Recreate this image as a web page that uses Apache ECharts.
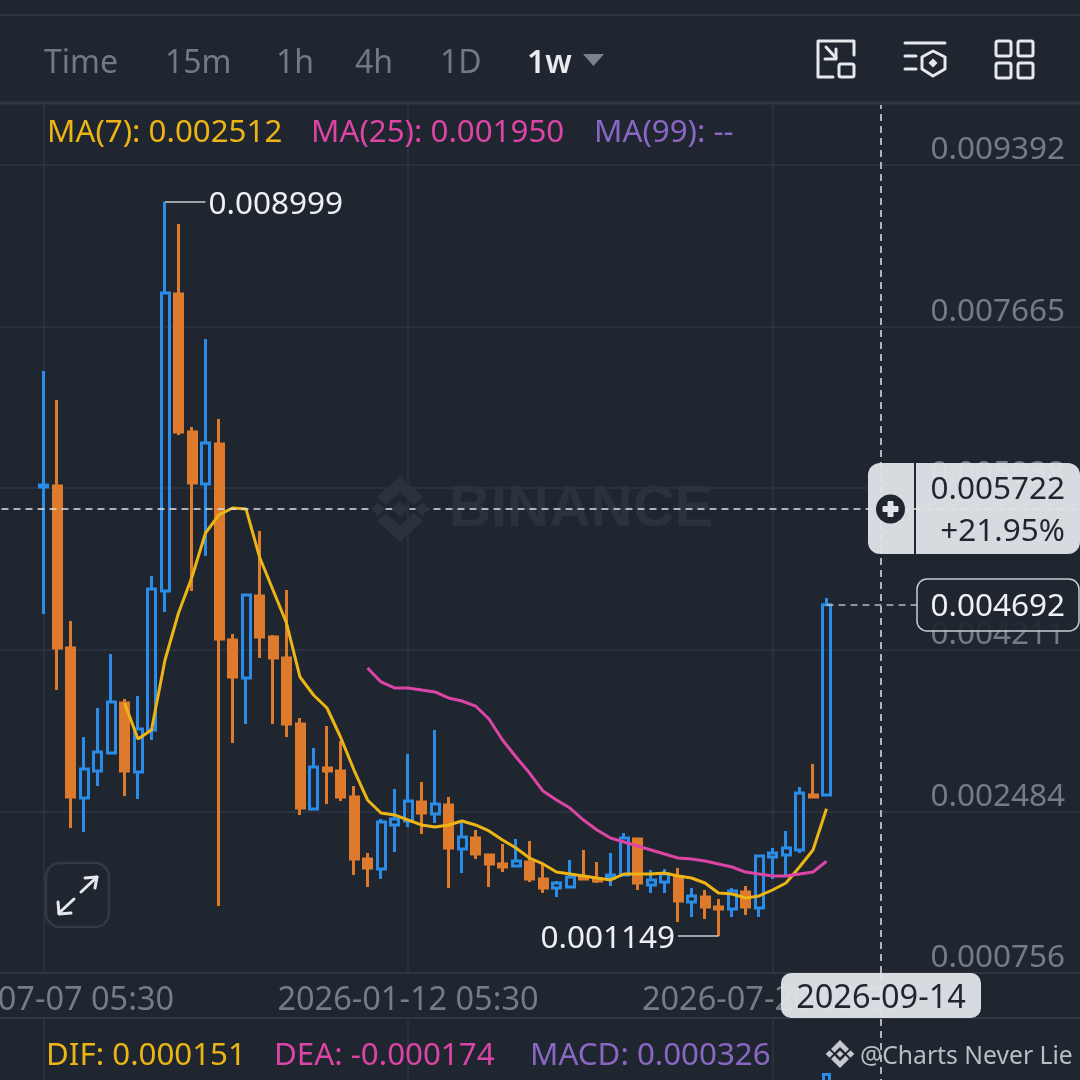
<!DOCTYPE html>
<html><head><meta charset="utf-8">
<style>html,body{margin:0;padding:0;background:#1f2630}#c{width:1080px;height:1080px}</style>
<script src="https://cdn.jsdelivr.net/npm/echarts@6/dist/echarts.min.js"></script>
</head><body><div id="c"></div>
<script>
// values are in millionths of the price unit
const opens  = [5950,5961,4229,2626,2915,3107,3641,2904,3353,4838,8012,6538,5982,6409,4315,3909,4785,4347,4122,3417,2509,2947,2915,2637,1974,1867,2338,2380,2583,2455,2551,2081,2199,2017,1921,1900,1942,1761,1664,1675,1782,1761,1771,1803,2188,1696,1729,1782,1515,1568,1461,1440,1622,1451,1996,2017,2071,2658,2658];
const closes = [5971,4229,2637,2936,3118,3652,2915,3364,4860,8023,6538,5993,6420,4325,3919,4796,4347,4122,3417,2519,2958,2915,2637,1974,1878,2370,2402,2594,2466,2562,2092,2209,2028,1921,1889,1953,1761,1664,1718,1782,1761,1739,1803,2199,1718,1750,1814,1525,1579,1461,1440,1632,1461,2006,2038,2092,2680,2637,4692];
const lows   = [4593,3780,2306,2263,2754,3107,2648,2616,3246,4614,6506,4838,5212,1472,3214,3417,4122,3417,3278,2445,2509,2562,2594,1803,1675,1761,2049,2316,2242,2359,1664,1825,1974,1675,1835,1900,1729,1611,1568,1675,1761,1718,1686,1803,1643,1611,1611,1301,1354,1333,1149,1354,1376,1354,1761,1782,2038,2626,2658];
const highs  = [7190,6880,4518,3278,3588,4165,3684,3716,4999,8999,8761,6591,7532,6677,4379,4796,5480,4368,4849,3481,3161,3396,3235,2754,2038,2402,2722,3096,2797,3353,2637,2359,2284,2017,2135,2188,2167,1910,1739,1964,2071,1942,2038,2252,2199,1857,1867,1878,1664,1643,1547,1664,1686,2017,2092,2274,2744,2990,4764];
const ma7Values  = [3641,3257,3353,4101,4603,4988,5458,5651,5725,5715,5202,4849,4496,3919,3727,3588,3278,2925,2605,2466,2445,2391,2338,2316,2338,2380,2338,2274,2177,2092,1985,1921,1835,1814,1793,1771,1750,1814,1814,1814,1825,1793,1771,1718,1611,1600,1558,1579,1643,1718,1889,2071,2512];
const ma25Values = [4016,3866,3802,3802,3780,3759,3695,3663,3609,3470,3246,3064,2893,2701,2605,2519,2391,2284,2199,2156,2113,2071,2028,1985,1974,1953,1921,1889,1835,1814,1793,1793,1814,1835,1950];
const macdValue = 326;
const yTicks = [0.000756,0.002484,0.004211,0.005938,0.007665,0.009392];
const xTickDates = ['2025-07-07','2026-01-12','2026-07-20'];
const hoverDate = '2026-09-14', hoverPrice = 0.005722, hoverPct = '+21.95%';
const lastPrice = 0.004692, maxPrice = 0.008999, minPrice = 0.001149;
const tabs = ['Time','15m','1h','4h','1D'], activeTab = '1w';
const LEAD = 4, SLOTS = 82;

const scale = a => a.map(v => v == null ? null : +(v/1e6).toFixed(6));
const categories = [];
for (let i = 0; i < SLOTS; i++) {
  const d = new Date(Date.UTC(2025,5,9) + i*7*864e5);
  categories.push(d.toISOString().slice(0,10));
}
const pad = (a, start) => new Array(LEAD+start).fill(null).concat(scale(a));
const candleData = new Array(LEAD).fill('-').concat(opens.map((o,i)=>[o/1e6,closes[i]/1e6,lows[i]/1e6,highs[i]/1e6]));
const lastIdx = LEAD + opens.length - 1;
const macdData = new Array(lastIdx).fill(null).concat([macdValue/1e6]);

const BG='#1f2630', GRID='#2e3643', UP='#2a8ce6', DOWN='#dd7a2c', YEL='#ecb415', PINK='#dc44a6', PUR='#8a67c4';
const FF='"Noto Sans"';
const AX='#757c87';
const PILL='rgba(226,228,233,0.95)', DARK='#1f2630', ICON='#e6e8ec', WM='#2b323d', SIG='#c5c8ce';

const isTick = (i,v) => xTickDates.includes(v);
const hline = y => ({type:'line',z:5,silent:true,shape:{x1:0,y1:y,x2:1080,y2:y},style:{stroke:GRID,lineWidth:2}});
const txt = (x,y,text,fill,size,align,weight) => ({type:'text',z:60,silent:true,style:{x,y:y+2.5,text,fill,font:`${weight||400} ${size}px ${FF}`,textAlign:align||'left',textVerticalAlign:'middle'}});
const poly = (pts,opt,closed) => ({type:closed?'polygon':'polyline',z:60,silent:true,shape:{points:pts},style:opt});
const line = (pts,w,c) => poly(pts,{stroke:c||ICON,lineWidth:w||3,fill:null,lineCap:'round',lineJoin:'round'});
const rrect = (x,y,w,h,r,style,z) => ({type:'rect',z:z||55,silent:true,shape:{x,y,width:w,height:h,r},style});
const diamond = (cx,cy,r,c) => poly([[cx,cy-r],[cx+r,cy],[cx,cy+r],[cx-r,cy]],{fill:c},true);

const tabXs = [44,165,276,355,440];
const g = [hline(15),hline(103),hline(1018)];
g[1].style.lineWidth=3;
tabs.forEach((t,i)=>g.push(txt(tabXs[i],61,t,'#727984',32)));
g.push(txt(527,61,activeTab,'#e9ebef',32,'left',600));
g.push(poly([[583,54],[604,54],[593.5,66]],{fill:'#7c838e'},true));
// toolbar icons
g.push(line([[854,55],[854,41],[818,41],[818,77],[833,77]]),
  rrect(839,64,15,13,2,{stroke:ICON,lineWidth:3,fill:null},60),
  line([[826,47],[836,58]]),line([[836,49],[836,59],[825,59]]),
  line([[905,43],[945,43]]),line([[905,56],[916,56]]),line([[905,69],[916,69]]),
  poly([[933,51],[945,57],[945,69],[933,76],[922,69],[922,57]],{stroke:ICON,lineWidth:3,fill:null,lineJoin:'round'},true),
  diamond(933,63,4.5,ICON),
  rrect(996,41,15,15,2,{stroke:ICON,lineWidth:3,fill:null},60),rrect(1018,41,15,15,2,{stroke:ICON,lineWidth:3,fill:null},60),
  rrect(996,63,15,15,2,{stroke:ICON,lineWidth:3,fill:null},60),rrect(1018,63,15,15,2,{stroke:ICON,lineWidth:3,fill:null},60));
// legend
g.push(txt(47,131,'MA(7): 0.002512',YEL,31.3),txt(311,131,'MA(25): 0.001950',PINK,31.3),txt(594,131,'MA(99): --',PUR,31.3));
g.push(txt(46,1054,'DIF: 0.000151',YEL,31.3),txt(274,1054,'DEA: -0.000174',PINK,31.3),txt(530,1054,'MACD: 0.000326',PUR,31.3));
// watermark
g.push(poly([[400,476],[423,497],[414,505],[400,492],[386,505],[377,497]],{fill:WM},true),
  poly([[400,542],[423,521],[414,513],[400,526],[386,513],[377,521]],{fill:WM},true),
  diamond(400,509,8,WM),diamond(378,509,7,WM),diamond(422,509,7,WM));
g.push({type:'text',z:4,silent:true,style:{x:449,y:510,text:'BINANCE',fill:WM,font:'700 58px "Liberation Sans"',textVerticalAlign:'middle'}});
// expand button
g.push(rrect(46,863,63,64,14,{stroke:'#323a47',lineWidth:2.5,fill:'rgba(31,38,48,0.6)'},55),
  line([[81,892],[97,877]],3),line([[85,878],[97,877],[95,888]],3),
  line([[74,899],[59,913]],3),line([[58,902],[59,914],[71,913]],3));
// crosshair pill
g.push(rrect(868,463,46,91,[12,0,0,12],{fill:PILL},50),rrect(916,463,164,91,[0,12,12,0],{fill:PILL},50),
  {type:'circle',z:60,silent:true,shape:{cx:890.5,cy:509,r:14.5},style:{fill:DARK}},
  rrect(887.5,501,6,16,1,{fill:'#e2e4e9'},61),rrect(882.5,506,16,6,1,{fill:'#e2e4e9'},61),
  txt(1065,488,hoverPrice.toFixed(6),DARK,31.5,'right'),txt(1065,530,hoverPct,DARK,31.5,'right'));
// last price pill
g.push(rrect(917,579,162,52,10,{fill:'rgba(31,38,48,0.92)',stroke:'#c9cdd3',lineWidth:1.5},50),
  txt(1065,605,lastPrice.toFixed(6),'#eef0f3',31.5,'right'));
// date pill
g.push({type:'line',z:49,silent:true,shape:{x1:881,y1:973,x2:881,y2:1018},style:{stroke:'#d8dbe0',lineWidth:1.5,lineDash:[7,5]}},
  rrect(781,973,200,45,10,{fill:PILL},50),txt(881,996,hoverDate,DARK,32.5,'center'));
// signature
g.push(poly([[840,1040],[849,1049],[845.5,1052.5],[840,1047],[834.5,1052.5],[831,1049]],{fill:SIG},true),
  poly([[840,1068],[849,1059],[845.5,1055.5],[840,1061],[834.5,1055.5],[831,1059]],{fill:SIG},true),
  diamond(829.5,1054,3.8,SIG),diamond(850.5,1054,3.8,SIG),diamond(840,1054,3.5,SIG));
g.push(txt(860,1054,'@Charts Never Lie','#b9bdc4',24.7));

const dashed = (c) => ({color:c,width:1.5,type:[7,5]});
const annot = {color:'#eef0f3',fontFamily:FF,fontSize:31.5,offset:[0,3]};
const option = {
  animation:false, backgroundColor:BG,
  grid:[{left:-10.5,right:-3,top:105,bottom:107,outerBoundsMode:'none',containLabel:false},
        {left:-10.5,right:-3,top:1018,bottom:-138,outerBoundsMode:'none',containLabel:false}],
  xAxis:[
   {type:'category',gridIndex:0,data:categories,boundaryGap:false,
    axisLine:{show:true,lineStyle:{color:GRID,width:2}},axisTick:{show:false},
    splitLine:{show:true,interval:isTick,lineStyle:{color:GRID,width:1.5}},
    axisLabel:{interval:isTick,hideOverlap:false,color:AX,fontFamily:FF,fontSize:32.5,margin:11,formatter:v=>v+' 05:30'}},
   {type:'category',gridIndex:1,data:categories,boundaryGap:false,
    axisLine:{show:false},axisTick:{show:false},axisLabel:{show:false},
    splitLine:{show:true,interval:isTick,lineStyle:{color:GRID,width:1.5}}}
  ],
  yAxis:[
   {type:'value',gridIndex:0,position:'right',min:0.000756,max:0.010032,
    axisLine:{show:false},axisTick:{show:false,customValues:yTicks},
    splitLine:{show:true,lineStyle:{color:GRID,width:1.5}},
    axisLabel:{inside:true,customValues:yTicks,margin:18,color:AX,fontFamily:FF,fontSize:31.5,verticalAlign:'bottom',lineHeight:29,formatter:v=>v.toFixed(6)}},
   {type:'value',gridIndex:1,show:false,min:-0.000288,max:0.000559,splitLine:{show:false}}
  ],
  graphic:g,
  series:[
   {type:'candlestick',xAxisIndex:0,yAxisIndex:0,data:candleData,barWidth:8.5,z:3,
    itemStyle:{color:'transparent',color0:DOWN,borderColor:UP,borderColor0:DOWN,borderWidth:3},
    markLine:{silent:true,symbol:'none',animation:false,label:{show:false},data:[
      [{coord:[categories[0],hoverPrice],lineStyle:dashed('#dfe1e5')},{coord:[categories[SLOTS-1],hoverPrice]}],
      [{coord:[hoverDate,0.000756],lineStyle:dashed('#dfe1e5')},{coord:[hoverDate,0.010032]}],
      [{coord:[categories[lastIdx],lastPrice],lineStyle:dashed('#b7bbc2')},{coord:[categories[lastIdx+7],lastPrice]}],
      [{coord:[categories[LEAD+9],maxPrice],lineStyle:{color:'#c9ccd1',width:1.5,type:'solid'},label:{show:true,position:'end',distance:3,formatter:maxPrice.toFixed(6),...annot}},{coord:[categories[LEAD+12],maxPrice]}],
      [{coord:[categories[LEAD+50],minPrice],lineStyle:{color:'#c9ccd1',width:1.5,type:'solid'},label:{show:true,position:'end',distance:3,formatter:minPrice.toFixed(6),...annot}},{coord:[categories[LEAD+47],minPrice]}]
    ]}},
   {type:'line',name:'MA7',xAxisIndex:0,yAxisIndex:0,data:pad(ma7Values,6),symbol:'none',z:4,lineStyle:{color:YEL,width:3}},
   {type:'line',name:'MA25',xAxisIndex:0,yAxisIndex:0,data:pad(ma25Values,24),symbol:'none',z:4,lineStyle:{color:PINK,width:3}},
   {type:'bar',name:'MACD',xAxisIndex:1,yAxisIndex:1,data:macdData,barWidth:9,z:3,
    itemStyle:{color:'transparent',borderColor:UP,borderWidth:3},
    markLine:{silent:true,symbol:'none',animation:false,label:{show:false},lineStyle:dashed('#dfe1e5'),data:[{xAxis:hoverDate}]}}
  ]
};
const chart = echarts.init(document.getElementById('c'),null,{renderer:'canvas',width:1080,height:1080});
chart.setOption(option);
</script></body></html>
